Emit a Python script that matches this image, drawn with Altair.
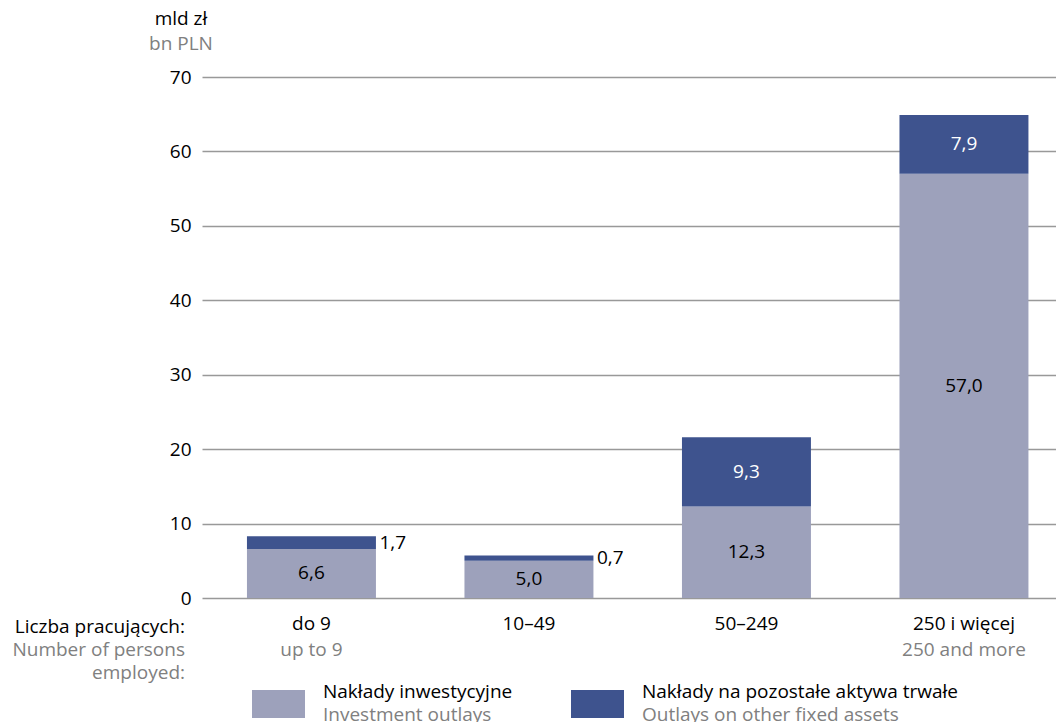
import altair as alt
import pandas as pd

categories = ["do 9", "10–49", "50–249", "250 i więcej"]
categories_en = ["up to 9", "", "", "250 and more"]
investment = [6.6, 5.0, 12.3, 57.0]
other_assets = [1.7, 0.7, 9.3, 7.9]
series_pl = ["Nakłady inwestycyjne", "Nakłady na pozostałe aktywa trwałe"]
series_en = ["Investment outlays", "Outlays on other fixed assets"]
y_ticks = [0, 10, 20, 30, 40, 50, 60, 70]

FONT = "Open Sans"
FS = 19
LIGHT = "#9da1bb"
DARK = "#3e538e"
GREY_TXT = "#808080"

rows = []
for c, a, b in zip(categories, investment, other_assets):
    rows.append({"cat": c, "series": series_pl[0], "value": a, "start": 0.0, "end": a,
                 "mid": a / 2, "label": f"{a:.1f}".replace(".", ",")})
    rows.append({"cat": c, "series": series_pl[1], "value": b, "start": a, "end": a + b,
                 "mid": a + b / 2, "label": f"{b:.1f}".replace(".", ",")})
df = pd.DataFrame(rows)

W, H = 854, 521

xscale = alt.Scale(domain=categories, paddingInner=0.407, paddingOuter=0.1667, align=0.62)
yscale = alt.Scale(domain=[0, 70], nice=False)
cscale = alt.Scale(domain=series_pl, range=[LIGHT, DARK])

base = alt.Chart(df)
X = alt.X("cat:N", scale=xscale, sort=categories)

bars = base.mark_bar().encode(
    x=alt.X("cat:N", scale=xscale, sort=categories,
            axis=alt.Axis(title=None, domain=False, ticks=False, labelAngle=0,
                          labelFontSize=FS, labelColor="#000", labelFont=FONT,
                          labelPadding=16)),
    y=alt.Y("start:Q", scale=yscale,
            axis=alt.Axis(title=None, values=y_ticks, domain=False, ticks=False,
                          labelFontSize=FS, labelColor="#000", labelFont=FONT,
                          labelPadding=11, gridColor="#999", gridWidth=1.5,
                          gridOpacity=1)),
    y2="end:Q",
    color=alt.Color("series:N", scale=cscale, legend=None),
)

inside_light = base.transform_filter(
    alt.datum.series == series_pl[0]).transform_filter("datum.value >= 3").mark_text(
    fontSize=FS, font=FONT, baseline="middle", color="#000"
).encode(x=X, y=alt.Y("mid:Q", scale=yscale), text="label:N")

inside_dark = base.transform_filter(
    alt.datum.series == series_pl[1]).transform_filter("datum.value >= 3").mark_text(
    fontSize=FS, font=FONT, baseline="middle", color="#fff"
).encode(x=X, y=alt.Y("mid:Q", scale=yscale), text="label:N")

outside = base.transform_filter("datum.value < 3").mark_text(
    fontSize=FS, font=FONT, baseline="middle", align="left", dx=68, color="#000"
).encode(x=X, y=alt.Y("mid:Q", scale=yscale), text="label:N")

en_df = pd.DataFrame({"cat": categories, "en": categories_en})
en_labels = alt.Chart(en_df).mark_text(
    fontSize=FS, font=FONT, color=GREY_TXT, baseline="middle"
).encode(x=X, y=alt.value(H + 52), text="en:N")

side_df = pd.DataFrame({"t": ["Liczba pracujących:", "Number of persons", "employed:"],
                        "c": ["#000", GREY_TXT, GREY_TXT],
                        "dy": [H + 29, H + 52, H + 75]})
side = alt.Chart(side_df).mark_text(fontSize=FS, font=FONT, align="right", baseline="middle").encode(
    x=alt.value(-17), y=alt.Y("dy:Q", scale=None), text="t:N", color=alt.Color("c:N", scale=None)
)

ytitle_df = pd.DataFrame({"t": ["mld zł", "bn PLN"], "c": ["#000", GREY_TXT], "dy": [-58, -33]})
ytitle = alt.Chart(ytitle_df).mark_text(fontSize=FS, font=FONT, align="center", baseline="middle").encode(
    x=alt.value(-21), y=alt.Y("dy:Q", scale=None), text="t:N", color=alt.Color("c:N", scale=None)
)

legend_layers = []
legend_x = [50, 369]
for i in range(2):
    ldf = pd.DataFrame({"series": [series_pl[i]], "pl": [series_pl[i]], "en": [series_en[i]]})
    lb = alt.Chart(ldf)
    legend_layers.append(lb.mark_rect().encode(
        x=alt.value(legend_x[i]), x2=alt.value(legend_x[i] + 53),
        y=alt.value(H + 92), y2=alt.value(H + 120),
        color=alt.Color("series:N", scale=cscale, legend=None)))
    legend_layers.append(lb.mark_text(fontSize=FS, font=FONT, align="left", baseline="middle", color="#000").encode(
        x=alt.value(legend_x[i] + 71), y=alt.value(H + 94), text="pl:N"))
    legend_layers.append(lb.mark_text(fontSize=FS, font=FONT, align="left", baseline="middle", color=GREY_TXT).encode(
        x=alt.value(legend_x[i] + 71), y=alt.value(H + 117), text="en:N"))

chart = alt.layer(bars, inside_light, inside_dark, outside, en_labels, side, ytitle, *legend_layers).properties(
    width=W, height=H,
    autosize=alt.AutoSizeParams(type="none"),
    padding={"left": 194, "top": 69, "right": 0, "bottom": 124},
).configure_view(stroke=None).configure_axis(labelFont=FONT)

chart.save("out.html", embed_options={"renderer": "svg", "actions": False})
